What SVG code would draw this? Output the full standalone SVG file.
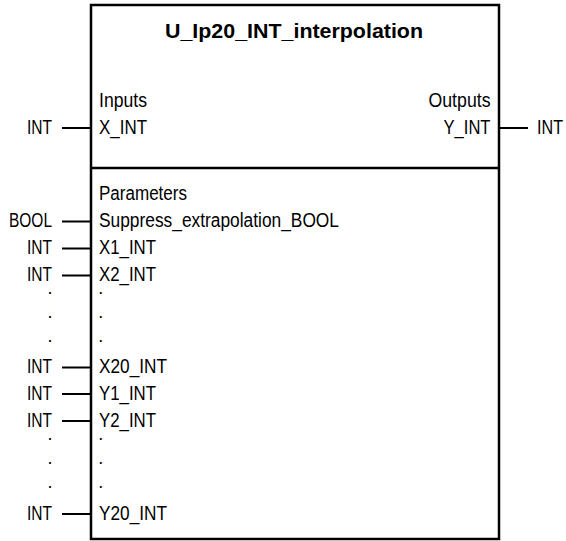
<svg xmlns="http://www.w3.org/2000/svg" width="566" height="541" viewBox="0 0 566 541">
<style>
text{font-family:"Liberation Sans Narrow","Liberation Sans",Arial,sans-serif;font-size:20px;fill:#000}
.t{font-weight:bold}
.d{font-size:18px}
.box{fill:#fff;stroke:#000;stroke-width:2.5}
.w{stroke:#000;stroke-width:2;fill:none}
</style>
<rect width="566" height="541" fill="#fff"/>
<g id="block">
<rect class="box" x="91" y="5" width="408" height="534"/>
<line class="w" x1="91" y1="168" x2="499" y2="168" style="stroke-width:2.5"/>
<text class="t" x="294" y="37.5" text-anchor="middle" textLength="258" lengthAdjust="spacingAndGlyphs">U_Ip20_INT_interpolation</text>
<text x="99" y="107" textLength="48" lengthAdjust="spacingAndGlyphs">Inputs</text>
<text x="490.5" y="107" text-anchor="end" textLength="62" lengthAdjust="spacingAndGlyphs">Outputs</text>
<text x="99" y="200" textLength="88" lengthAdjust="spacingAndGlyphs">Parameters</text>
</g>
<g id="in-x">
<text x="99" y="134" textLength="48" lengthAdjust="spacingAndGlyphs">X_INT</text>
<text x="27" y="134" textLength="25" lengthAdjust="spacingAndGlyphs">INT</text>
</g>
<g id="out-y">
<text x="490.5" y="134" text-anchor="end" textLength="47" lengthAdjust="spacingAndGlyphs">Y_INT</text>
<text x="537" y="134" textLength="26" lengthAdjust="spacingAndGlyphs">INT</text>
</g>
<g id="p-suppress">
<text x="99" y="227" textLength="240" lengthAdjust="spacingAndGlyphs">Suppress_extrapolation_BOOL</text>
<text x="9" y="227" textLength="43" lengthAdjust="spacingAndGlyphs">BOOL</text>
</g>
<g id="p-x1">
<text x="99" y="254" textLength="57" lengthAdjust="spacingAndGlyphs">X1_INT</text>
<text x="27" y="254" textLength="25" lengthAdjust="spacingAndGlyphs">INT</text>
</g>
<g id="p-x2">
<text x="99" y="281" textLength="57" lengthAdjust="spacingAndGlyphs">X2_INT</text>
<text x="27" y="281" textLength="25" lengthAdjust="spacingAndGlyphs">INT</text>
</g>
<g id="dots-x">
<text class="d" x="50" y="294" text-anchor="middle">.</text>
<text class="d" x="50" y="318" text-anchor="middle">.</text>
<text class="d" x="50" y="342" text-anchor="middle">.</text>
<text class="d" x="100.7" y="294" text-anchor="middle">.</text>
<text class="d" x="100.7" y="318" text-anchor="middle">.</text>
<text class="d" x="100.7" y="342" text-anchor="middle">.</text>
</g>
<g id="p-x20">
<text x="99" y="373" textLength="68" lengthAdjust="spacingAndGlyphs">X20_INT</text>
<text x="27" y="373" textLength="25" lengthAdjust="spacingAndGlyphs">INT</text>
</g>
<g id="p-y1">
<text x="99" y="400" textLength="57" lengthAdjust="spacingAndGlyphs">Y1_INT</text>
<text x="27" y="400" textLength="25" lengthAdjust="spacingAndGlyphs">INT</text>
</g>
<g id="p-y2">
<text x="99" y="427" textLength="57" lengthAdjust="spacingAndGlyphs">Y2_INT</text>
<text x="27" y="427" textLength="25" lengthAdjust="spacingAndGlyphs">INT</text>
</g>
<g id="dots-y">
<text class="d" x="50" y="440" text-anchor="middle">.</text>
<text class="d" x="50" y="464" text-anchor="middle">.</text>
<text class="d" x="50" y="488" text-anchor="middle">.</text>
<text class="d" x="100.7" y="440" text-anchor="middle">.</text>
<text class="d" x="100.7" y="464" text-anchor="middle">.</text>
<text class="d" x="100.7" y="488" text-anchor="middle">.</text>
</g>
<g id="p-y20">
<text x="99" y="520" textLength="68" lengthAdjust="spacingAndGlyphs">Y20_INT</text>
<text x="27" y="520" textLength="25" lengthAdjust="spacingAndGlyphs">INT</text>
</g>
<g id="connectors">
<line class="w" x1="62" y1="128" x2="91" y2="128"/>
<line class="w" x1="499" y1="128" x2="528" y2="128"/>
<line class="w" x1="62" y1="221.5" x2="91" y2="221.5"/>
<line class="w" x1="62" y1="248.5" x2="91" y2="248.5"/>
<line class="w" x1="62" y1="275.5" x2="91" y2="275.5"/>
<line class="w" x1="62" y1="367.5" x2="91" y2="367.5"/>
<line class="w" x1="62" y1="394" x2="91" y2="394"/>
<line class="w" x1="62" y1="421" x2="91" y2="421"/>
<line class="w" x1="62" y1="514" x2="91" y2="514"/>
</g>
</svg>
